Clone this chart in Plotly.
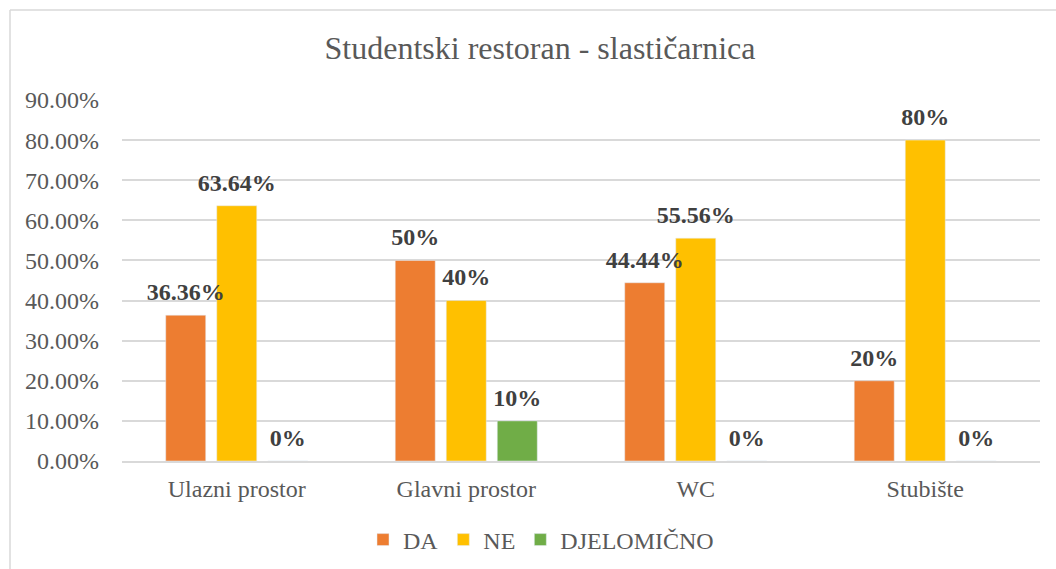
import plotly.graph_objects as go

categories = ["Ulazni prostor", "Glavni prostor", "WC", "Stubište"]
series_names = ["DA", "NE", "DJELOMIČNO"]
da_values = [0.3636, 0.50, 0.4444, 0.20]
ne_values = [0.6364, 0.40, 0.5556, 0.80]
djel_values = [0.0, 0.10, 0.0, 0.0]
colors = ["#ED7D31", "#FFC000", "#70AD47"]
title_text = "Studentski restoran - slastičarnica"

FONT = "Liberation Serif"
BARGAP = 0.333

fig = go.Figure()
all_values = [da_values, ne_values, djel_values]
for i, (name, vals, col) in enumerate(zip(series_names, all_values, colors)):
    fig.add_trace(go.Bar(
        x=categories, y=vals, name=name, marker_color=col,
        offsetgroup=str(i), hovertemplate="%{x}: %{y:.2~%}<extra>" + name + "</extra>",
    ))
for i, (name, vals) in enumerate(zip(series_names, all_values)):
    fig.add_trace(go.Scatter(
        x=categories, y=vals, mode="markers+text", offsetgroup=str(i),
        marker=dict(size=13, opacity=0), texttemplate="%{y:.2~%}",
        textposition="top center",
        textfont=dict(family=FONT, size=24, color="#404040", weight="bold"),
        showlegend=False, hoverinfo="skip", cliponaxis=False,
    ))

frame_x = (10 - 122) / 918
frame_top = (461 - 10) / 361
fig.update_layout(
    width=1056, height=569,
    paper_bgcolor="white", plot_bgcolor="white",
    margin=dict(l=122, r=16, t=100, b=108),
    barmode="group", bargap=BARGAP, bargroupgap=0.216,
    scattermode="group", scattergap=BARGAP,
    title=dict(text=title_text, x=540/1056, xref="container", xanchor="center",
               y=1 - 48/569, yref="container", yanchor="middle",
               font=dict(family=FONT, size=32, color="#595959")),
    font=dict(family=FONT, color="#595959"),
    legend=dict(orientation="h", x=541/1056, xanchor="center", y=1 - 540/569,
                yanchor="middle", xref="container", yref="container",
                font=dict(family=FONT, size=24, color="#595959"),
                traceorder="normal"),
    showlegend=True,
    shapes=[
        dict(type="line", xref="paper", yref="paper",
             x0=frame_x, x1=frame_x, y0=frame_top, y1=-0.4,
             line=dict(color="#D9D9D9", width=1.5)),
        dict(type="line", xref="paper", yref="paper",
             x0=frame_x, x1=1.1, y0=frame_top, y1=frame_top,
             line=dict(color="#D9D9D9", width=1.5)),
    ],
)
fig.update_xaxes(showgrid=False, showline=True, linecolor="#D9D9D9", linewidth=1.5,
                 ticks="", tickfont=dict(family=FONT, size=24, color="#595959"),
                 ticklabelstandoff=5)
fig.update_yaxes(range=[0, 0.9], dtick=0.1, tickformat=".2%", showgrid=True,
                 gridcolor="#D9D9D9", gridwidth=1.5, zeroline=False, showline=False,
                 tickfont=dict(family=FONT, size=24, color="#595959"),
                 ticklabelstandoff=22)

fig.write_html("out.html", config={"displayModeBar": False},
               post_script="document.body.style.margin='0px';")
